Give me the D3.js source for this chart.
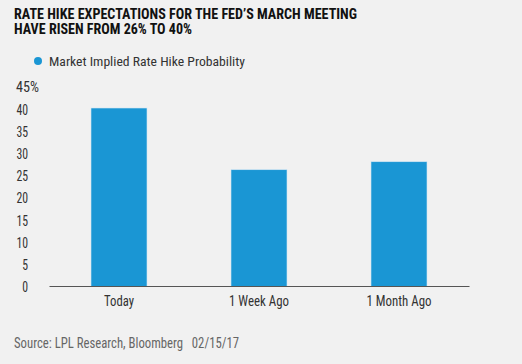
<!DOCTYPE html>
<html><head><meta charset="utf-8">
<script src="https://cdn.jsdelivr.net/npm/d3@7"></script>
<style>
html,body{margin:0;padding:0;background:#f1f1f1;}
svg{display:block;}
text{font-family:"Liberation Sans Narrow","Roboto Condensed","DejaVu Sans Condensed","Liberation Sans",sans-serif;}
</style></head>
<body>
<script>
const titleLines = ["RATE HIKE EXPECTATIONS FOR THE FED\u2019S MARCH MEETING", "HAVE RISEN FROM 26% TO 40%"];
const seriesName = "Market Implied Rate Hike Probability";
const categories = ["Today", "1 Week Ago", "1 Month Ago"];
const values = [40.2, 26.3, 28.1];
const yTicks = [0, 5, 10, 15, 20, 25, 30, 35, 40, 45];
const sourceText = "Source: LPL Research, Bloomberg";
const dateText = "02/15/17";

const W = 522, H = 364;
const FONT = "\"Liberation Sans Narrow\",\"DejaVu Sans Condensed\",sans-serif";
const svg = d3.select("body").append("svg").attr("width", W).attr("height", H);
svg.append("rect").attr("width", W).attr("height", H).attr("fill", "#f1f1f1");

// title
const tw = [343, 178];
titleLines.forEach((t, i) => {
  svg.append("text").attr("x", 14).attr("y", 18.5 + i * 15.5)
    .attr("font-size", 14).attr("font-weight", "bold").attr("fill", "#111")
    .attr("textLength", tw[i]).attr("lengthAdjust", "spacingAndGlyphs")
    .text(t);
});

// legend
svg.append("circle").attr("cx", 38).attr("cy", 61).attr("r", 4).attr("fill", "#1a96d4");
svg.append("text").attr("x", 49).attr("y", 65.5).attr("font-size", 13.5).attr("fill", "#333")
  .attr("textLength", 196).attr("lengthAdjust", "spacingAndGlyphs").text(seriesName);

const x = d3.scaleBand().domain(categories).range([49, 469]).paddingInner(0.6).paddingOuter(0.3);
const y = d3.scaleLinear().domain([0, 45]).range([286.5, 86.7]);

// bars
svg.selectAll("rect.bar").data(values).join("rect").attr("class", "bar")
  .attr("x", (d, i) => x(categories[i]))
  .attr("width", x.bandwidth())
  .attr("y", d => y(d))
  .attr("height", d => y(0) - y(d))
  .attr("fill", "#1a96d4")
  .attr("stroke", "#cfe6f3").attr("stroke-width", 0.6);

// y axis labels
const yMax = d3.max(yTicks);
const yAxis = d3.axisLeft(y).tickValues(yTicks).tickSize(0).tickPadding(0)
  .tickFormat(d => d === yMax ? d + "%" : String(d));
const ya = svg.append("g").attr("transform", "translate(28,0)").call(yAxis);
ya.select(".domain").remove();
ya.selectAll(".tick text").attr("font-size", 14.5).attr("fill", "#333").attr("dy", "0.36em")
  .attr("font-family", FONT)
  .attr("text-anchor", d => d === yMax ? "start" : "end")
  .attr("x", d => d === yMax ? -12 : 0)
  .attr("textLength", d => d === yMax ? 23 : String(d).length * 5.8)
  .attr("lengthAdjust", "spacingAndGlyphs");

// x axis
const xLabelWidths = [30, 60, 65];
const xAxis = d3.axisBottom(x).tickSize(0).tickPadding(0);
const xa = svg.append("g").attr("transform", "translate(0,286)").call(xAxis);
xa.select(".domain").attr("stroke", "#555").attr("stroke-width", 1.2);
xa.selectAll(".tick text").attr("font-size", 14.5).attr("fill", "#333").attr("dy", null).attr("y", 19.5)
  .attr("font-family", FONT)
  .attr("textLength", (d, i) => xLabelWidths[i]).attr("lengthAdjust", "spacingAndGlyphs");

// source
svg.append("text").attr("x", 14).attr("y", 348).attr("font-size", 14.5).attr("fill", "#666")
  .style("white-space", "pre")
  .attr("textLength", 225).attr("lengthAdjust", "spacingAndGlyphs")
  .text(sourceText + "   " + dateText);
</script>
</body></html>
